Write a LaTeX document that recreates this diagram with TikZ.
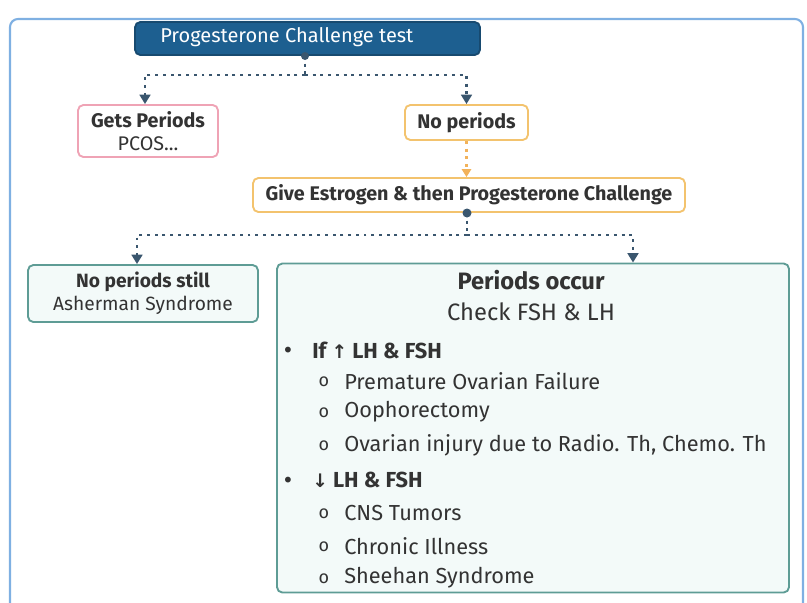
\documentclass[tikz,border=0pt]{standalone}
\usepackage{fontspec}
\setmainfont{Fira Sans}
\newfontfamily\sym{DejaVu Sans}
\usetikzlibrary{arrows.meta}
\definecolor{titlefill}{HTML}{1D5F90}
\definecolor{titledraw}{HTML}{174A70}
\definecolor{conncol}{HTML}{3A566E}
\definecolor{pinkb}{HTML}{EFA3B5}
\definecolor{orangeb}{HTML}{F3C36E}
\definecolor{orangec}{HTML}{F2B25A}
\definecolor{tealb}{HTML}{5E9C95}
\definecolor{tealf}{HTML}{F3FAF9}
\definecolor{frameb}{HTML}{7FB0E2}
\definecolor{txt}{HTML}{333333}
\tikzset{
  box/.style={draw, line width=1.4pt, rounded corners=4pt, fill=white, text=txt, align=center, inner sep=0pt},
  conn/.style={draw=conncol, line width=2pt, dash pattern=on 2.2pt off 3.6pt, -{Triangle[length=7pt,width=8pt]}},
  connn/.style={draw=conncol, line width=2pt, dash pattern=on 2.2pt off 3.6pt},
  itemtxt/.style={anchor=west, text=txt, inner sep=0pt, font=\fontsize{16.3}{18}\selectfont},
  bul/.style={text=txt, inner sep=0pt, font=\sym\fontsize{15}{16}\selectfont},
  sub/.style={text=txt, inner sep=0pt, font=\fontsize{13.5}{16}\selectfont}
}
\begin{document}
\begin{tikzpicture}[x=0.75pt,y=-0.75pt]
\useasboundingbox (0,0) rectangle (807,603);
% outer frame
\draw[frameb, line width=1.6pt, rounded corners=6pt] (10,640) -- (10,19) -- (803,19) -- (803,640);
% title
\node[box, draw=titledraw, fill=titlefill, minimum width=345*0.75pt, minimum height=33*0.75pt] (t) at (307.5,38.5) {};
\node[anchor=west, text=white, font=\fontsize{15}{16}\selectfont, inner sep=0pt] (tt) at (160,37) {Progesterone Challenge test};
\coordinate (ts) at (305,56);
\fill[conncol] (ts) circle (4);
% gets periods
\node[box, draw=pinkb, minimum width=140*0.75pt, minimum height=52*0.75pt, font=\fontsize{14.8}{17.5}\selectfont] (gp) at (148,131) {\textbf{Gets Periods}\\PCOS...};
% no periods
\node[box, draw=orangeb, minimum width=123*0.75pt, minimum height=35*0.75pt, font=\fontsize{14.8}{16}\selectfont\bfseries] (np) at (466.5,122.5) {No periods};
% give estrogen
\node[box, draw=orangeb, minimum width=432*0.75pt, minimum height=34*0.75pt, font=\fontsize{14.8}{16}\selectfont\bfseries] (ge) at (469,195) {Give Estrogen \& then Progesterone Challenge};
\coordinate (gs) at (467,213);
\fill[conncol] (gs) circle (4.5);
% no periods still
\node[box, draw=tealb, fill=tealf, minimum width=230*0.75pt, minimum height=57*0.75pt, font=\fontsize{14.4}{17}\selectfont] (nps) at (143,293.5) {\textbf{No periods still}\\Asherman Syndrome};
% periods occur
\node[box, draw=tealb, fill=tealf, minimum width=512*0.75pt, minimum height=329*0.75pt] (po) at (533,428) {};
\node[text=txt, font=\fontsize{17.8}{18}\selectfont\bfseries, inner sep=0pt] (poh) at (531,280) {Periods occur};
\node[text=txt, font=\fontsize{17.8}{18}\selectfont, inner sep=0pt] (pos) at (531,312) {Check FSH \& LH};
\node[bul] (b1) at (288,352) {•};
\node[itemtxt] (b1t) at (312,350) {\textbf{If {\sym\fontsize{14}{16}\selectfont↑} LH \& FSH}};
\node[sub] (s1) at (324,382) {o};
\node[itemtxt] (s1t) at (344,381) {Premature Ovarian Failure};
\node[sub] (s2) at (324,413) {o};
\node[itemtxt] (s2t) at (344,412) {Oophorectomy};
\node[sub] (s3) at (324,446) {o};
\node[itemtxt] (s3t) at (344,445) {Ovarian injury due to Radio. Th, Chemo. Th};
\node[bul] (b2) at (288,482) {•};
\node[itemtxt] (b2t) at (312,480) {\textbf{{\sym\fontsize{14}{16}\selectfont↓} LH \& FSH}};
\node[sub] (s4) at (324,514) {o};
\node[itemtxt] (s4t) at (344,513) {CNS Tumors};
\node[sub] (s5) at (324,547) {o};
\node[itemtxt] (s5t) at (344,546) {Chronic Illness};
\node[sub] (s6) at (324,579) {o};
\node[itemtxt] (s6t) at (344,578) {Sheehan Syndrome};
% connectors
\coordinate (j1) at (305,75);
\coordinate (j2) at (467,235);
\draw[connn] (ts) -- (j1);
\draw[conn] (j1) -| (gp.north -| 145,0);
\draw[conn] (j1) -| (np.north);
\draw[draw=orangec, line width=2pt, dash pattern=on 2.2pt off 3.6pt, -{Triangle[length=6pt,width=7pt]}] (np.south) -- (ge.north -| np.south);
\draw[connn] (gs) -- (j2);
\draw[conn] (j2) -| (nps.north -| 137,0);
\draw[conn] (j2) -| (po.north -| 633,0);
\end{tikzpicture}
\end{document}
